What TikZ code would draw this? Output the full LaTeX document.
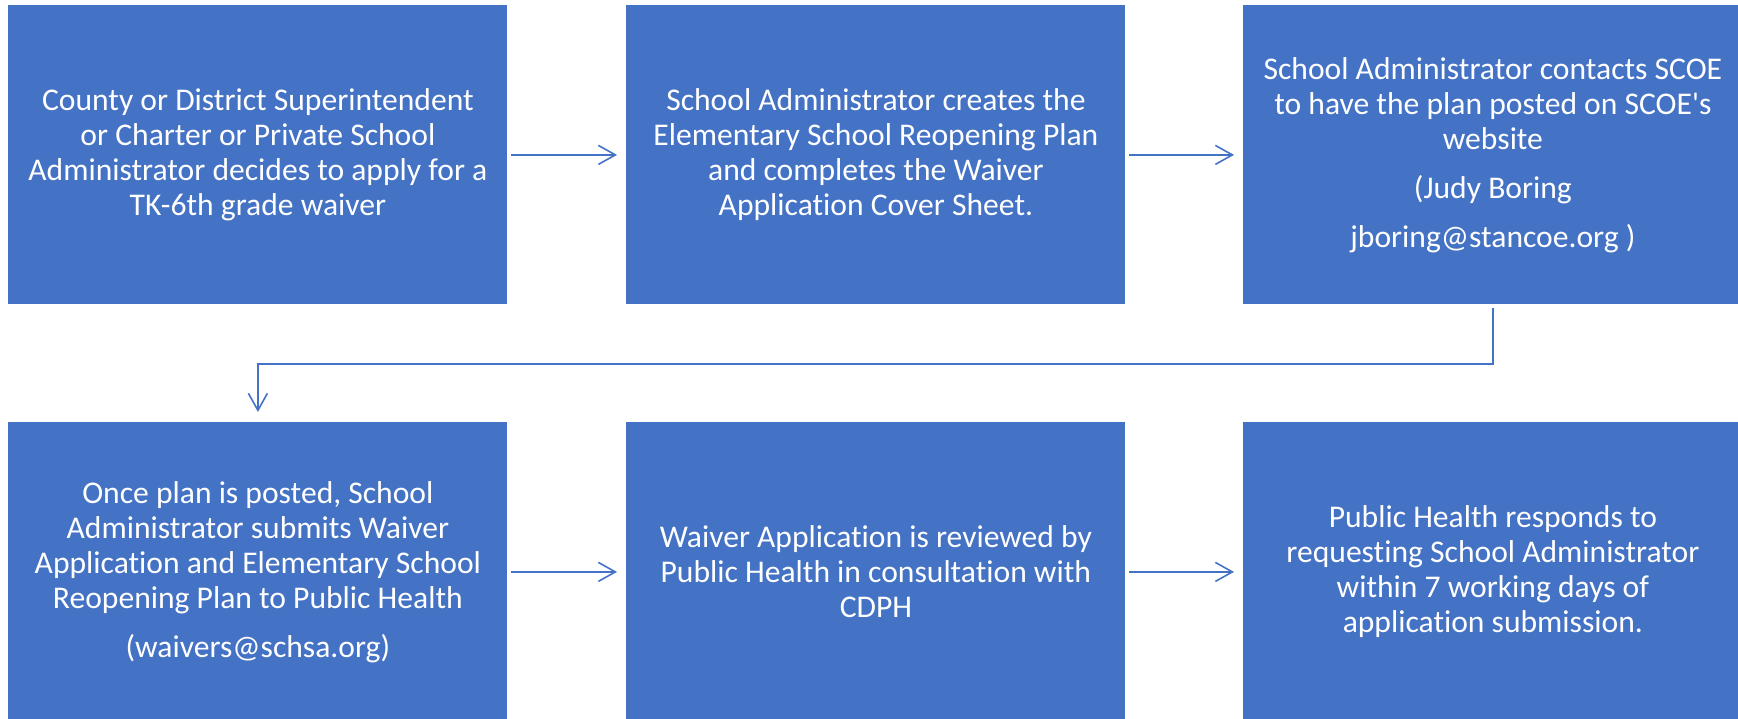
\documentclass[tikz,border=0pt]{standalone}
\usepackage{fontspec}
\setmainfont{Carlito}[Ligatures={TeX,NoCommon}]
\usepackage{xcolor}
\usetikzlibrary{arrows.meta}
\definecolor{boxblue}{RGB}{68,114,196}

\begin{document}
\begin{tikzpicture}[x=0.5pt,y=0.5pt,yscale=-1,xscale=1,
  stepbox/.style={fill=boxblue, text=white, anchor=north west, inner sep=0pt,
    minimum width=249.5pt, minimum height=149.5pt, align=center,
    font=\fontsize{15.8}{17.5}\selectfont},
  link/.style={draw=boxblue, line width=0.8pt,
    -{Straight Barb[length=8.5pt,width=9.5pt]}}]
\useasboundingbox (0,0) rectangle (1738,718);
\clip (0,0) rectangle (1738,718);

% Top row
\node [stepbox] (apply) at (8,5) {County or District Superintendent\\or Charter or Private School\\Administrator decides to apply for a\\TK-6th grade waiver};
\node [stepbox] (create) at (626,5) {School Administrator creates the\\Elementary School Reopening Plan\\and completes the Waiver\\Application Cover Sheet.};
\node [stepbox] (post) at (1243,5) {School Administrator contacts SCOE\\to have the plan posted on SCOE\textquotesingle s\\website\\[7pt](Judy Boring\\[7pt]jboring@stancoe.org )};

% Bottom row
\node [stepbox] (submit) at (8,422) {Once plan is posted, School\\Administrator submits Waiver\\Application and Elementary School\\Reopening Plan to Public Health\\[7pt](waivers@schsa.org)};
\node [stepbox] (review) at (626,422) {Waiver Application is reviewed by\\Public Health in consultation with\\CDPH};
\node [stepbox] (respond) at (1243,422) {Public Health responds to\\requesting School Administrator\\within 7 working days of\\application submission.};

% Connectors
\draw [link, shorten <=1.5pt, shorten >=4.5pt] (apply.east) -- (create.west);
\draw [link, shorten <=1.5pt, shorten >=4.5pt] (create.east) -- (post.west);
\draw [link, shorten <=1.5pt, shorten >=5pt] (post.south) -- ++(0,59) -| (submit.north);
\draw [link, shorten <=1.5pt, shorten >=4.5pt] (submit.east) -- (review.west);
\draw [link, shorten <=1.5pt, shorten >=4.5pt] (review.east) -- (respond.west);

\end{tikzpicture}
\end{document}
